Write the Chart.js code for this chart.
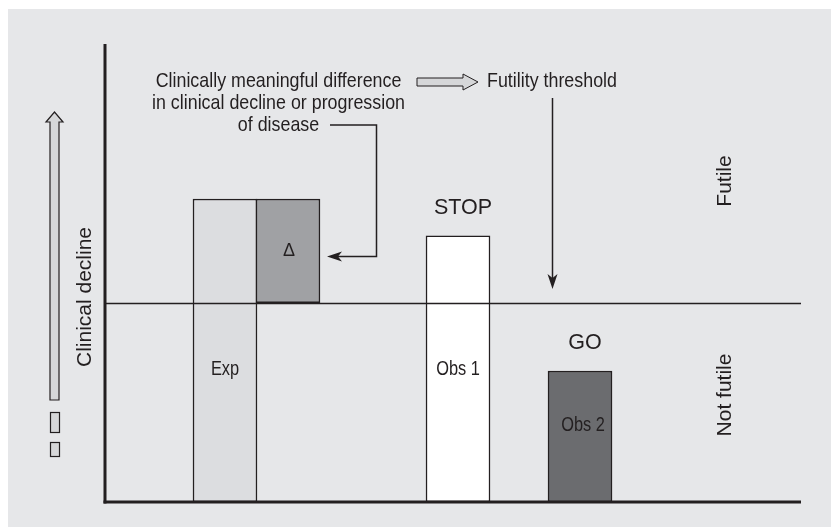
<!DOCTYPE html>
<html>
<head>
<meta charset="utf-8">
<title>Futility threshold</title>
<script src="https://cdn.jsdelivr.net/npm/chart.js@4.4.0/dist/chart.umd.min.js"></script>
<style>
html, body { margin: 0; padding: 0; background: #fff; }
canvas { display: block; }
</style>
</head>
<body>
<canvas id="chart" width="831" height="527"></canvas>
<script>
// bars: position along the plot width (0-100) and floating range on the decline scale (0-100)
var barNames = ['Exp', '\u0394', 'Obs 1', 'Obs 2'];
var barPos = [17.24, 26.29, 50.72, 68.25];
var barLow = [0, 43.5, 0, 0];
var barHigh = [66.15, 66.15, 58.1, 28.6];
var decisionNames = ['', '', 'STOP', 'GO'];
var threshold = 43.5;
var regionNames = ['Futile', 'Not futile'];
var axisTitle = 'Clinical decline';
var noteLines = ['Clinically meaningful difference', 'in clinical decline or progression', 'of disease'];
var thresholdNote = 'Futility threshold';

var barColors = ['#dcdde0', '#a0a1a4', '#ffffff', '#6b6c6f'];
var INK = '#231f20';
var SANS = '"Liberation Sans", Arial, Helvetica, sans-serif';

function drawText(ctx, str, x, y, size, opts) {
    opts = opts || {};
    ctx.save();
    ctx.translate(x, y);
    if (opts.rotate) {
        ctx.rotate(opts.rotate);
    }
    ctx.scale(opts.squeeze || 1, 1);
    ctx.font = size + 'px ' + SANS;
    ctx.fillStyle = INK;
    ctx.textAlign = opts.align || 'center';
    ctx.textBaseline = opts.baseline || 'alphabetic';
    ctx.fillText(str, 0, 0);
    ctx.restore();
}

function poly(ctx, pts, fill, lw) {
    ctx.beginPath();
    ctx.moveTo(pts[0][0], pts[0][1]);
    for (var i = 1; i < pts.length; i++) {
        ctx.lineTo(pts[i][0], pts[i][1]);
    }
    ctx.closePath();
    if (fill) {
        ctx.fillStyle = fill;
        ctx.fill();
    }
    if (lw) {
        ctx.lineWidth = lw;
        ctx.strokeStyle = INK;
        ctx.stroke();
    }
}

var backdrop = {
    id: 'backdrop',
    beforeDraw: function(chart) {
        var ctx = chart.ctx;
        ctx.save();
        ctx.fillStyle = '#ffffff';
        ctx.fillRect(0, 0, chart.width, chart.height);
        ctx.fillStyle = '#e6e7e9';
        ctx.fillRect(8, 9, chart.width - 8, chart.height - 9);
        ctx.restore();
    }
};

var annotations = {
    id: 'annotations',
    afterDatasetsDraw: function(chart) {
        var ctx = chart.ctx;
        var area = chart.chartArea;
        var ys = chart.scales.y;
        var meta = chart.getDatasetMeta(0);
        var ty = Math.round(ys.getPixelForValue(threshold)) + 0.5;

        ctx.save();
        // threshold line
        ctx.strokeStyle = INK;
        ctx.lineWidth = 1.5;
        ctx.beginPath();
        ctx.moveTo(area.left, ty);
        ctx.lineTo(area.right, ty);
        ctx.stroke();

        // axes
        ctx.fillStyle = INK;
        ctx.fillRect(area.left - 1.5, area.top, 3, area.bottom - area.top + 1.5);
        ctx.fillRect(area.left - 1.5, area.bottom - 1.5, area.right - area.left + 1.5, 3);

        // bar labels
        var labelY = [375, 256, 375, 431];
        meta.data.forEach(function(bar, i) {
            if (i === 1) {
                drawText(ctx, barNames[i], bar.x + 1, labelY[i], 18);
            } else {
                drawText(ctx, barNames[i], bar.x + (i === 3 ? 3 : 0), labelY[i], 21, { squeeze: 0.78 });
            }
            if (decisionNames[i]) {
                drawText(ctx, decisionNames[i], bar.x + 5, bar.y - 22, 21.5);
            }
        });

        // region and axis titles
        drawText(ctx, regionNames[0], 725, 181, 21, { rotate: -Math.PI / 2, baseline: 'middle' });
        drawText(ctx, regionNames[1], 725, 395, 21, { rotate: -Math.PI / 2, baseline: 'middle' });
        drawText(ctx, axisTitle, 85, 297, 21, { rotate: -Math.PI / 2, baseline: 'middle' });

        // note above the chart
        noteLines.forEach(function(line, i) {
            drawText(ctx, line, 278.5, 87 + i * 22, 21, { squeeze: 0.85 });
        });
        drawText(ctx, thresholdNote, 487, 87, 21, { squeeze: 0.85, align: 'left' });

        // hollow arrow between note and threshold
        poly(ctx, [[417, 78], [463, 78], [463, 74], [478, 82], [463, 90], [463, 86], [417, 86]], '#d6d7d9', 1);

        // left hollow arrow and small boxes
        poly(ctx, [[50, 400], [50, 122], [46, 122], [54.5, 112], [63, 122], [59, 122], [59, 400]], '#d6d7d9', 1.2);
        ctx.fillStyle = '#d6d7d9';
        ctx.fillRect(50.5, 412.5, 9, 20);
        ctx.fillRect(50.5, 442.5, 9, 14);
        ctx.lineWidth = 1.2;
        ctx.strokeStyle = INK;
        ctx.strokeRect(50.5, 412.5, 9, 20);
        ctx.strokeRect(50.5, 442.5, 9, 14);

        // down arrow onto the threshold
        ctx.lineWidth = 1.5;
        ctx.beginPath();
        ctx.moveTo(552.5, 98);
        ctx.lineTo(552.5, 280);
        ctx.stroke();
        poly(ctx, [[552.5, 289], [547.5, 274], [552.5, 278], [557.5, 274]], INK, 0);

        // bracket from the note to the delta bar
        ctx.beginPath();
        ctx.moveTo(330, 125);
        ctx.lineTo(376.5, 125);
        ctx.lineTo(376.5, 256.5);
        ctx.lineTo(336, 256.5);
        ctx.stroke();
        poly(ctx, [[327, 256.5], [342, 251.5], [338, 256.5], [342, 261.5]], INK, 0);
        ctx.restore();
    }
};

var points = barPos.map(function(p, i) {
    return { x: p, y: [barLow[i], barHigh[i]] };
});

new Chart(document.getElementById('chart'), {
    type: 'bar',
    data: {
        datasets: [{
            data: points,
            backgroundColor: barColors,
            borderColor: INK,
            borderWidth: 1.5,
            borderSkipped: false,
            barThickness: 64
        }]
    },
    options: {
        responsive: false,
        animation: false,
        layout: { padding: { left: 105, top: 44, right: 30, bottom: 25 } },
        scales: {
            x: { type: 'linear', min: 0, max: 100, offset: false, display: false },
            y: { type: 'linear', min: 0, max: 100, display: false }
        },
        plugins: {
            legend: { display: false },
            tooltip: { enabled: false }
        }
    },
    plugins: [backdrop, annotations]
});
</script>
</body>
</html>
